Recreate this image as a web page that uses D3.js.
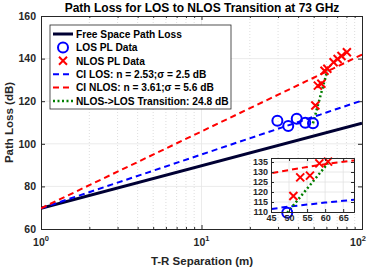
<!DOCTYPE html>
<html>
<head>
<meta charset="utf-8">
<script src="https://cdn.jsdelivr.net/npm/d3@7"></script>
<style>
  body { margin: 0; background: #fff; }
  svg { display: block; font-family: "Liberation Sans", Arial, sans-serif; font-weight: bold; }
</style>
</head>
<body>
<svg id="chart" width="373" height="270"></svg>
<script>
// measured data (T-R separation in m, path loss in dB)
var losDist = [29.7, 34.7, 39.2, 44.3, 49.5];
var losPL = [110.8, 108.4, 111.8, 109.9, 109.6];
var nlosDist = [51.2, 53.1, 55.8, 58.4, 60.8, 66.5, 70.5, 74.5, 80.5];
var nlosPL = [118.0, 127.3, 128.2, 134.3, 135.2, 138.3, 139.8, 141.2, 143.0];

// model lines, read at a few distances
var fsplDist = [1, 100];
var fsplPL = [69.7, 109.7];
var ciDist = [1, 45, 50, 55, 60, 65, 68, 100];
var ciLosPL = [69.7, 111.5, 112.7, 113.7, 114.7, 115.6, 116.1, 120.3];
var ciNlosPL = [69.7, 129.4, 131.0, 132.5, 133.9, 135.1, 135.8, 141.9];
var transDist = [49.5, 60.8];
var transPL = [109.6, 134.4];

var legendLabels = ['Free Space Path Loss', 'LOS PL Data', 'NLOS PL Data',
  'CI LOS: n = 2.53;\u03c3 = 2.5 dB', 'CI NLOS: n = 3.61;\u03c3 = 5.6 dB',
  'NLOS->LOS Transition: 24.8 dB'];
var yTicks = [60, 80, 100, 120, 140, 160];
var insetXTicks = [45, 50, 55, 60, 65];
var insetYTicks = [110, 115, 120, 125, 130, 135];

var svg = d3.select('#chart');
var txt = '#262626';

// main axes
var pl = 41, pr = 362, pt = 16, pb = 229;
var x = d3.scaleLog().domain([1, 100]).range([pl, pr]);
var y = d3.scaleLinear().domain([60, 160]).range([pb, pt]);

function zip(a, b) { return a.map(function(d, i) { return [d, b[i]]; }); }

svg.append('rect').attr('x', pl).attr('y', pt)
  .attr('width', pr - pl).attr('height', pb - pt).attr('fill', '#fff');

// grid
var minor = [];
[1, 10].forEach(function(dec) { for (var k = 2; k < 10; k++) minor.push(dec * k); });
svg.append('g').selectAll('line').data(minor).enter().append('line')
  .attr('x1', function(d) { return x(d); }).attr('x2', function(d) { return x(d); })
  .attr('y1', pt).attr('y2', pb)
  .attr('stroke', '#cfcfcf').attr('stroke-width', 0.7).attr('stroke-dasharray', '1,2');
svg.append('g').selectAll('line').data([10]).enter().append('line')
  .attr('x1', function(d) { return x(d); }).attr('x2', function(d) { return x(d); })
  .attr('y1', pt).attr('y2', pb).attr('stroke', '#e6e6e6').attr('stroke-width', 0.8);
svg.append('g').selectAll('line').data(yTicks.slice(1, -1)).enter().append('line')
  .attr('x1', pl).attr('x2', pr)
  .attr('y1', function(d) { return y(d); }).attr('y2', function(d) { return y(d); })
  .attr('stroke', '#e6e6e6').attr('stroke-width', 0.8);

// axes
var gy = svg.append('g').attr('transform', 'translate(' + pl + ',0)')
  .call(d3.axisLeft(y).tickValues(yTicks).tickSize(-4).tickPadding(5));
svg.append('g').attr('transform', 'translate(' + pr + ',0)')
  .call(d3.axisRight(y).tickValues(yTicks).tickSize(-4).tickFormat(''));
svg.append('g').attr('transform', 'translate(0,' + pb + ')')
  .call(d3.axisBottom(x).tickValues([1, 10, 100]).tickSize(-4).tickFormat(''));
svg.append('g').attr('transform', 'translate(0,' + pb + ')')
  .call(d3.axisBottom(x).tickValues(minor).tickSize(-2).tickFormat(''));
svg.append('g').attr('transform', 'translate(0,' + pt + ')')
  .call(d3.axisTop(x).tickValues([1, 10, 100]).tickSize(-4).tickFormat(''));
svg.append('g').attr('transform', 'translate(0,' + pt + ')')
  .call(d3.axisTop(x).tickValues(minor).tickSize(-2).tickFormat(''));
svg.selectAll('.domain').attr('stroke', txt);
svg.selectAll('.tick line').attr('stroke', txt);
gy.selectAll('.tick text').attr('font-size', 10.5).attr('font-weight', 'bold').attr('fill', txt)
  .attr('font-family', '"Liberation Sans", Arial, sans-serif');

// x tick labels with superscripts
[1, 10, 100].forEach(function(v, i) {
  var t = svg.append('text').attr('x', x(v) - (i == 2 ? 4 : 0)).attr('y', 246)
    .attr('text-anchor', 'middle').attr('font-size', 10.5).attr('fill', txt);
  t.append('tspan').text('10');
  t.append('tspan').attr('dy', -5).attr('font-size', 7.5).text(String(i));
});

svg.append('text').attr('x', 202).attr('y', 265).attr('text-anchor', 'middle')
  .attr('font-size', 11.5).attr('fill', txt).text('T-R Separation (m)');
svg.append('text').attr('transform', 'translate(13,' + ((pt + pb) / 2) + ') rotate(-90)')
  .attr('text-anchor', 'middle').attr('font-size', 11.5).attr('fill', txt).text('Path Loss (dB)');
svg.append('text').attr('x', 202).attr('y', 12).attr('text-anchor', 'middle')
  .attr('font-size', 12).attr('fill', '#000').text('Path Loss for LOS to NLOS Transition at 73 GHz');

// plot content
svg.append('clipPath').attr('id', 'mainClip').append('rect')
  .attr('x', pl).attr('y', pt).attr('width', pr - pl).attr('height', pb - pt);

// markers are kept only when their centre falls inside the axes (like MATLAB)
function inside(xs, ys) {
  var xd = xs.domain(), yd = ys.domain();
  return function(d) {
    return d[0] >= xd[0] - 0.3 && d[0] <= xd[1] && d[1] >= yd[0] - 0.6 && d[1] <= yd[1];
  };
}

function drawSeries(g, xs, ys, clipId) {
  var line = d3.line().x(function(d) { return xs(d[0]); }).y(function(d) { return ys(d[1]); });
  var keep = inside(xs, ys);
  var lg = g.append('g').attr('clip-path', clipId);
  lg.append('path').datum(zip(fsplDist, fsplPL)).attr('d', line)
    .attr('fill', 'none').attr('stroke', '#000033').attr('stroke-width', 3);
  lg.append('path').datum(zip(ciDist, ciLosPL)).attr('d', line)
    .attr('fill', 'none').attr('stroke', '#0000ff').attr('stroke-width', 2).attr('stroke-dasharray', '6,4');
  lg.append('path').datum(zip(ciDist, ciNlosPL)).attr('d', line)
    .attr('fill', 'none').attr('stroke', '#ff0000').attr('stroke-width', 2).attr('stroke-dasharray', '6,4');
  lg.append('path').datum(zip(transDist, transPL)).attr('d', line)
    .attr('fill', 'none').attr('stroke', '#007f00').attr('stroke-width', 2.5).attr('stroke-dasharray', '2,2.5');
  g.append('g').selectAll('circle').data(zip(losDist, losPL).filter(keep)).enter().append('circle')
    .attr('cx', function(d) { return xs(d[0]); }).attr('cy', function(d) { return ys(d[1]); })
    .attr('r', 5).attr('fill', 'none').attr('stroke', '#0000ff').attr('stroke-width', 2);
  g.append('g').selectAll('path.x').data(zip(nlosDist, nlosPL).filter(keep)).enter().append('path')
    .attr('transform', function(d) { return 'translate(' + xs(d[0]) + ',' + ys(d[1]) + ')'; })
    .attr('d', 'M-4,-4L4,4M-4,4L4,-4').attr('stroke', '#ff0000').attr('stroke-width', 2);
}
drawSeries(svg.append('g'), x, y, 'url(#mainClip)');

// legend
var lx = 50, ly = 25, lw = 181, lh = 84;
var lg = svg.append('g');
lg.append('rect').attr('x', lx).attr('y', ly).attr('width', lw).attr('height', lh)
  .attr('fill', '#fff').attr('stroke', '#262626').attr('stroke-width', 0.8);
legendLabels.forEach(function(label, i) {
  var ry = 34 + i * 13.4;
  if (i == 0) lg.append('line').attr('x1', 53).attr('x2', 73).attr('y1', ry).attr('y2', ry)
    .attr('stroke', '#000033').attr('stroke-width', 3);
  if (i == 1) lg.append('circle').attr('cx', 63).attr('cy', ry).attr('r', 5)
    .attr('fill', 'none').attr('stroke', '#0000ff').attr('stroke-width', 2);
  if (i == 2) lg.append('path').attr('transform', 'translate(63,' + ry + ')')
    .attr('d', 'M-4,-4L4,4M-4,4L4,-4').attr('stroke', '#ff0000').attr('stroke-width', 2);
  if (i == 3 || i == 4) lg.append('line').attr('x1', 53).attr('x2', 73).attr('y1', ry).attr('y2', ry)
    .attr('stroke', i == 3 ? '#0000ff' : '#ff0000').attr('stroke-width', 2).attr('stroke-dasharray', '6,4');
  if (i == 5) lg.append('line').attr('x1', 53).attr('x2', 73).attr('y1', ry).attr('y2', ry)
    .attr('stroke', '#007f00').attr('stroke-width', 2.5).attr('stroke-dasharray', '2,2.5');
  lg.append('text').attr('x', 76).attr('y', ry + 3.8).attr('font-size', 10.2)
    .attr('fill', '#000').text(label);
});

// inset
var il = 271, ir = 354, it = 158, ib = 212;
var ix = d3.scaleLinear().domain([45, 68]).range([il, ir]);
var iy = d3.scaleLinear().domain([110, 137]).range([ib, it]);
var inset = svg.append('g');
inset.append('rect').attr('x', il).attr('y', it).attr('width', ir - il).attr('height', ib - it)
  .attr('fill', '#fff');
inset.append('g').selectAll('line').data(insetXTicks.slice(1)).enter().append('line')
  .attr('x1', function(d) { return ix(d); }).attr('x2', function(d) { return ix(d); })
  .attr('y1', it).attr('y2', ib).attr('stroke', '#e2e2e2').attr('stroke-width', 0.8);
inset.append('g').selectAll('line').data(insetYTicks.slice(1)).enter().append('line')
  .attr('x1', il).attr('x2', ir)
  .attr('y1', function(d) { return iy(d); }).attr('y2', function(d) { return iy(d); })
  .attr('stroke', '#e2e2e2').attr('stroke-width', 0.8);
svg.append('clipPath').attr('id', 'insetClip').append('rect')
  .attr('x', il).attr('y', it).attr('width', ir - il).attr('height', ib - it);
drawSeries(inset, ix, iy, 'url(#insetClip)');
inset.append('g').attr('transform', 'translate(0,' + ib + ')')
  .call(d3.axisBottom(ix).tickValues(insetXTicks).tickSize(-3).tickPadding(3));
inset.append('g').attr('transform', 'translate(' + il + ',0)')
  .call(d3.axisLeft(iy).tickValues(insetYTicks).tickSize(-3).tickPadding(3));
inset.append('g').attr('transform', 'translate(0,' + it + ')')
  .call(d3.axisTop(ix).tickValues(insetXTicks).tickSize(-3).tickFormat(''));
inset.append('g').attr('transform', 'translate(' + ir + ',0)')
  .call(d3.axisRight(iy).tickValues(insetYTicks).tickSize(-3).tickFormat(''));
inset.selectAll('.domain').attr('stroke', txt);
inset.selectAll('.tick line').attr('stroke', txt);
inset.selectAll('.tick text').attr('font-size', 9).attr('font-weight', 'bold').attr('fill', txt)
  .attr('font-family', '"Liberation Sans", Arial, sans-serif');
</script>
</body>
</html>
